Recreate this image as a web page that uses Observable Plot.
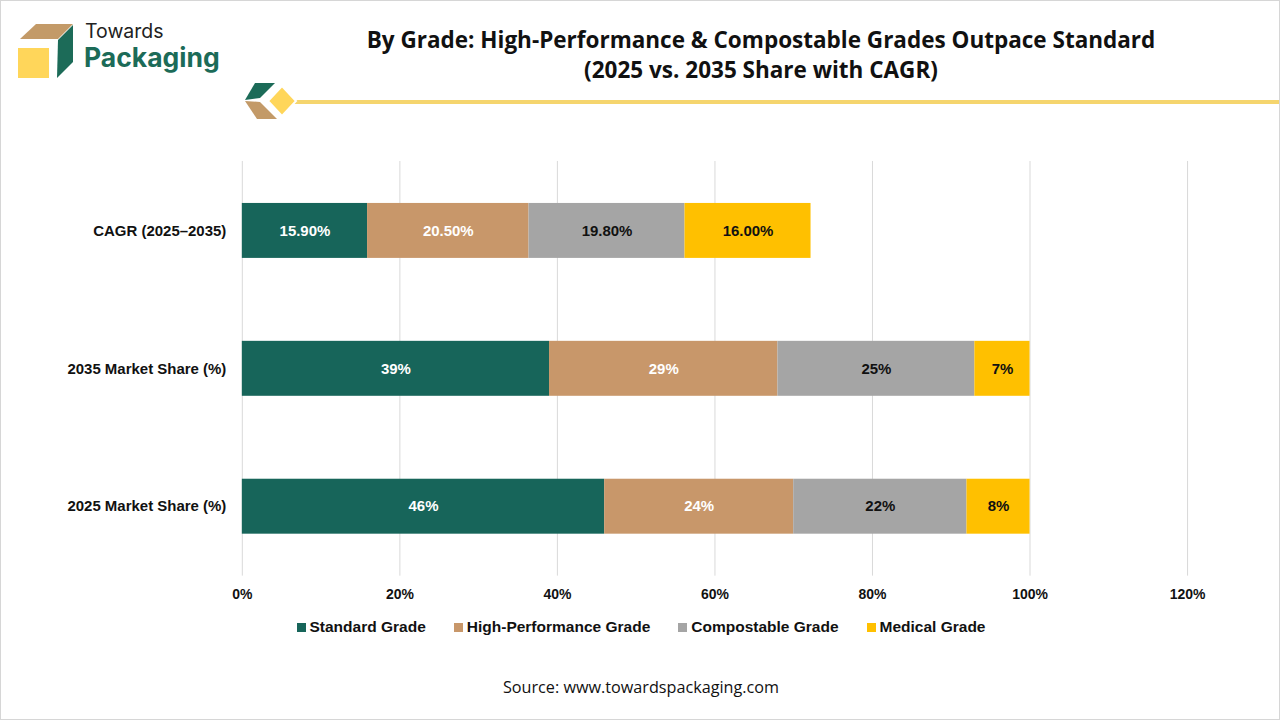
<!DOCTYPE html>
<html><head><meta charset="utf-8">
<script src="https://cdn.jsdelivr.net/npm/d3@7"></script>
<script src="https://cdn.jsdelivr.net/npm/@observablehq/plot@0.6"></script>
<style>
html,body{margin:0;padding:0;background:#fff}
#frame{position:relative;width:1280px;height:720px;box-sizing:border-box;border:1px solid #d6d6d6;overflow:hidden;background:#fff}
#logo{position:absolute;left:-1px;top:-1px}
#title{position:absolute;left:320px;width:880px;top:24px;text-align:center;font-family:"Open Sans",sans-serif;font-weight:700;font-size:22.5px;line-height:30px;color:#111}
#chart{position:absolute;left:-1px;top:139px}
#legend{position:absolute;left:0;width:1280px;top:617px;display:flex;justify-content:center;gap:28px;font-family:"Liberation Sans Narrow","Liberation Sans",sans-serif;font-weight:700;font-size:15.5px;color:#111}
#legend .item{display:flex;align-items:center;gap:4px}
#legend .sw{width:9px;height:9px;display:inline-block}
#source{position:absolute;left:0;width:1280px;top:675px;text-align:center;font-family:"Open Sans",sans-serif;font-size:16.2px;color:#111}
</style></head><body>
<div id="frame">
<svg id="logo" width="1280" height="130" viewBox="0 0 1280 130">
  <polygon points="36,24 73,24 58,39 20,39" fill="#C39A68"/>
  <polygon points="58,40 73,25 73,62 57,78" fill="#1C6B58"/>
  <rect x="18" y="48" width="31" height="30" fill="#FFD65A"/>
  <text x="85" y="38" font-family="Inter, sans-serif" font-size="19.5" fill="#222">Towards</text>
  <text x="84" y="67" font-family="Inter, sans-serif" font-weight="700" font-size="26.5" fill="#1C6B58">Packaging</text>
  <line x1="288" y1="102" x2="1280" y2="102" stroke="#F5D56E" stroke-width="4"/>
  <polygon points="255,83 275,83 260,98 245,100" fill="#1C6B58"/>
  <polygon points="245,101 260,102 277,119 257,119" fill="#C39A68"/>
  <polygon points="282,86 296,101 282,116 268,101" fill="#FFD65A" stroke="#fff" stroke-width="2"/>
</svg>
<div id="title">By Grade: High-Performance &amp; Compostable Grades Outpace Standard<br>(2025 vs. 2035 Share with CAGR)</div>
<div id="chart"></div>
<div id="legend"></div>
<div id="source">Source: www.towardspackaging.com</div>
</div>
<script>
const rows = ["CAGR (2025–2035)", "2035 Market Share (%)", "2025 Market Share (%)"];
const grades = ["Standard Grade", "High-Performance Grade", "Compostable Grade", "Medical Grade"];
const gradeColors = ["#17655A", "#C8976A", "#A5A5A5", "#FFC000"];
const lightText = [true, true, false, false];
const cagr = [15.9, 20.5, 19.8, 16.0];
const share2035 = [39, 29, 25, 7];
const share2025 = [46, 24, 22, 8];
const xTicks = [0, 20, 40, 60, 80, 100, 120];

const series = [cagr, share2035, share2025];
const data = rows.flatMap((row, r) => grades.map((g, i) => ({
  row, grade: g, value: series[r][i],
  label: r === 0 ? series[r][i].toFixed(2) + "%" : series[r][i] + "%",
  light: lightText[i]
})));

const labelFont = "'Liberation Sans Narrow', 'Liberation Sans', sans-serif";
const chart = Plot.plot({
  width: 1280, height: 481,
  marginLeft: 242, marginRight: 92, marginTop: 21, marginBottom: 45,
  style: {fontFamily: "'Liberation Sans', Arial, sans-serif", fontSize: "14px", fontWeight: "bold", color: "#111", background: "transparent"},
  x: {domain: [0, 120], label: null},
  y: {domain: rows, paddingInner: 0.6, paddingOuter: 0.3, label: null},
  color: {domain: grades, range: gradeColors},
  marks: [
    Plot.ruleX(xTicks, {stroke: "#d9d9d9", strokeWidth: 1}),
    Plot.barX(data, Plot.stackX({x: "value", y: "row", z: "grade", fill: "grade", inset: 0})),
    Plot.text(data, Plot.stackX({x: "value", y: "row", z: "grade", text: d => d.light ? d.label : "", fill: "white", fontFamily: labelFont, fontSize: 15, fontWeight: "bold"})),
    Plot.text(data, Plot.stackX({x: "value", y: "row", z: "grade", text: d => d.light ? "" : d.label, fill: "#111", fontFamily: labelFont, fontSize: 15, fontWeight: "bold"})),
    Plot.axisX({ticks: xTicks, tickFormat: d => d + "%", tickSize: 0, tickPadding: 13, fontSize: 14, label: null}),
    Plot.axisY({tickSize: 0, tickPadding: 16, fontSize: 15, label: null})
  ]
});
document.getElementById("chart").appendChild(chart);

const legend = document.getElementById("legend");
grades.forEach((g, i) => {
  const it = document.createElement("div");
  it.className = "item";
  it.innerHTML = `<span class="sw" style="background:${gradeColors[i]}"></span><span>${g}</span>`;
  legend.appendChild(it);
});
</script>
</body></html>
